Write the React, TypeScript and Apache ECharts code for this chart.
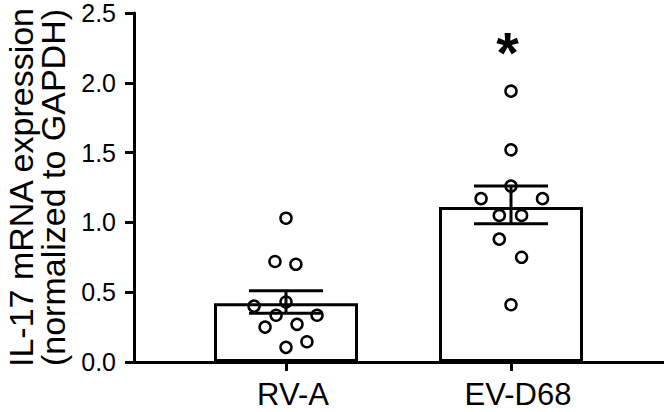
import React, { useEffect, useRef } from "react";
import * as echarts from "echarts";

const categories = ["RV-A", "EV-D68"];
const means = [0.42, 1.11];
const semLow = [0.35, 0.99];
const semHigh = [0.51, 1.26];
const yTicks = [0, 0.5, 1.0, 1.5, 2.0, 2.5];

const rvaValues = [1.03, 0.72, 0.7, 0.4, 0.43, 0.335, 0.335, 0.25, 0.27, 0.105, 0.145];
const rvaJitter = [0, -0.049, 0.044, -0.142, 0, -0.044, 0.138, -0.093, 0.049, 0, 0.093];
const evValues = [1.94, 1.52, 1.26, 1.17, 1.17, 1.05, 1.05, 0.88, 0.75, 0.41];
const evJitter = [0, 0, 0, -0.133, 0.14, -0.052, 0.047, -0.052, 0.047, 0];
const starValue = 2.22;

const FONT = "'Liberation Sans', Arial, Helvetica, sans-serif";

export default function App() {
  const ref = useRef<HTMLDivElement>(null);
  useEffect(() => {
    if (!ref.current) return;
    const chart = echarts.init(ref.current, undefined, { renderer: "svg" });
    const black = "#000";
    const rvaData = rvaValues.map((v, i) => [1 + rvaJitter[i], v]);
    const evData = evValues.map((v, i) => [2 + evJitter[i], v]);
    const errData = categories.map((_, i) => [i, semLow[i], semHigh[i]]);
    const pointStyle = { color: "rgba(0,0,0,0)", borderColor: black, borderWidth: 2.5, opacity: 1 };
    const option: any = {
      animation: false,
      backgroundColor: "#fff",
      textStyle: { fontFamily: FONT },
      grid: [
        { left: 134, right: 0, top: 13, bottom: 50, containLabel: false, outerBoundsMode: "none" },
        { left: 173.5, right: 40.5, top: 13, bottom: 50, containLabel: false, outerBoundsMode: "none" },
      ],
      xAxis: [
        {
          gridIndex: 0,
          type: "value",
          min: 0,
          max: 1,
          axisLine: { show: true, lineStyle: { color: black, width: 3 } },
          axisTick: { show: false },
          axisLabel: { show: false },
          splitLine: { show: false },
        },
        {
          gridIndex: 1,
          type: "category",
          data: categories,
          axisLine: { show: false },
          axisTick: { show: true, alignWithLabel: true, length: 9, lineStyle: { color: black, width: 3 } },
          axisLabel: {
            fontSize: 31,
            lineHeight: 28,
            color: black,
            margin: 18,
            fontFamily: FONT,
            padding: [0, 0, 0, 14],
          },
          splitLine: { show: false },
        },
        {
          gridIndex: 1,
          type: "value",
          min: 0.5,
          max: 2.5,
          show: false,
        },
      ],
      yAxis: [
        {
          gridIndex: 0,
          type: "value",
          min: 0,
          max: 2.5,
          interval: 0.5,
          axisLine: { show: true, lineStyle: { color: black, width: 3 } },
          axisTick: { show: true, length: 9, lineStyle: { color: black, width: 3 } },
          axisLabel: {
            fontSize: 25,
            lineHeight: 24,
            color: black,
            margin: 18,
            fontFamily: FONT,
            formatter: (v: number) => (yTicks.includes(v) ? v.toFixed(1) : ""),
          },
          splitLine: { show: false },
          name: "IL-17 mRNA expression\n(normalized to GAPDH)",
          nameLocation: "middle",
          nameRotate: 90,
          nameGap: 57,
          nameTextStyle: { fontSize: 34, lineHeight: 32, color: black, fontFamily: FONT },
        },
        { gridIndex: 1, type: "value", min: 0, max: 2.5, show: false },
      ],
      series: [
        {
          type: "bar",
          xAxisIndex: 1,
          yAxisIndex: 1,
          data: means,
          barWidth: 144,
          itemStyle: { color: "#fff", borderColor: black, borderWidth: 3 },
          z: 1,
        },
        {
          type: "custom",
          xAxisIndex: 1,
          yAxisIndex: 1,
          data: errData,
          z: 3,
          renderItem: (params: any, api: any) => {
            const x = api.value(0);
            const lo = api.coord([x, api.value(1)]);
            const hi = api.coord([x, api.value(2)]);
            const hw = 37;
            const style = { stroke: black, lineWidth: 3 };
            return {
              type: "group",
              children: [
                { type: "line", shape: { x1: lo[0], y1: lo[1], x2: hi[0], y2: hi[1] }, style },
                { type: "line", shape: { x1: hi[0] - hw, y1: hi[1], x2: hi[0] + hw, y2: hi[1] }, style },
                { type: "line", shape: { x1: lo[0] - hw, y1: lo[1], x2: lo[0] + hw, y2: lo[1] }, style },
              ],
            };
          },
        },
        {
          type: "scatter",
          xAxisIndex: 2,
          yAxisIndex: 1,
          data: rvaData,
          symbol: "circle",
          symbolSize: 11,
          itemStyle: pointStyle,
          z: 4,
        },
        {
          type: "scatter",
          xAxisIndex: 2,
          yAxisIndex: 1,
          data: evData,
          symbol: "circle",
          symbolSize: 11,
          itemStyle: pointStyle,
          z: 4,
        },
        {
          type: "scatter",
          xAxisIndex: 2,
          yAxisIndex: 1,
          data: [[1.985, starValue]],
          symbolSize: 0,
          silent: true,
          itemStyle: { opacity: 1 },
          label: {
            show: true,
            position: "inside",
            formatter: "*",
            fontSize: 58,
            fontWeight: "bold",
            color: black,
            fontFamily: FONT,
          },
          z: 5,
        },
      ],
    };
    chart.setOption(option);
    return () => chart.dispose();
  }, []);
  return (
    <div
      ref={ref}
      style={{ position: "absolute", left: 0, top: 0, width: 664, height: 412 }}
    />
  );
}
